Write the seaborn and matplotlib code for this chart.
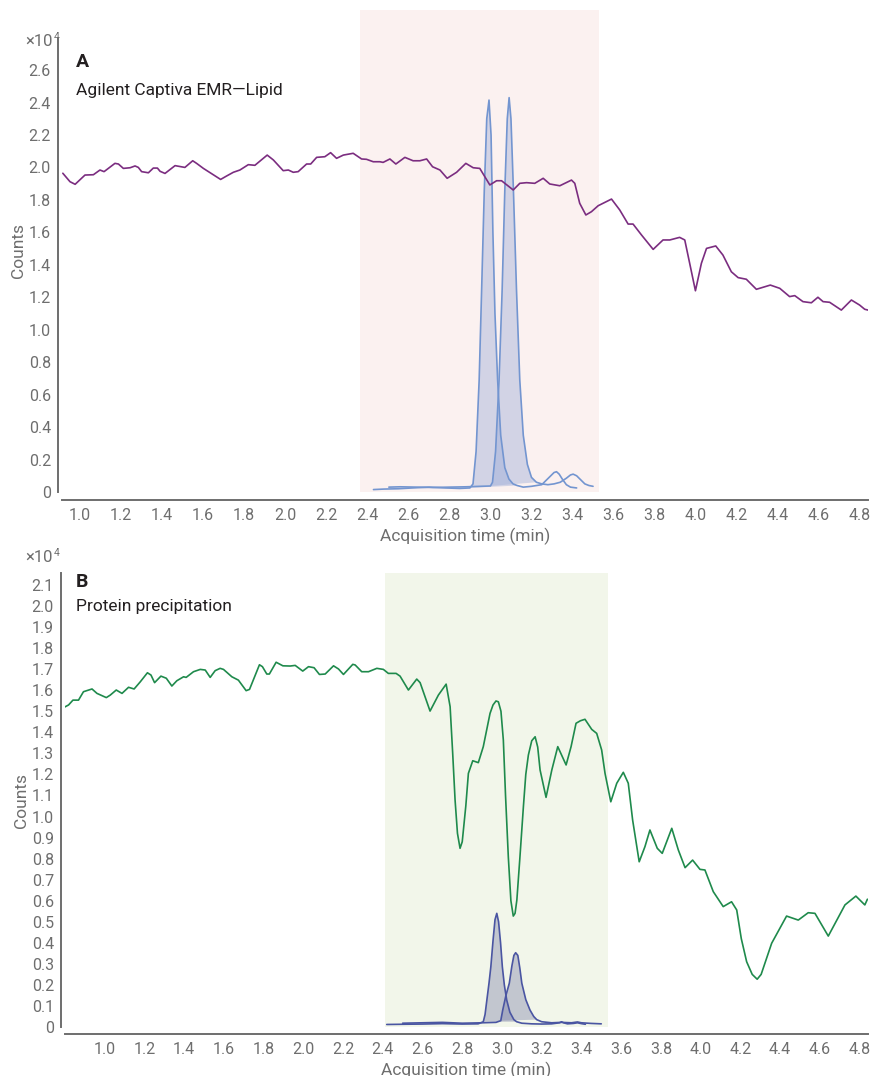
import numpy as np
import matplotlib
matplotlib.use("Agg")
import matplotlib.pyplot as plt
from matplotlib import font_manager as fm
import seaborn as sns

# ---------------- data (counts in units of 1e4) ----------------
# Panel A: Captiva EMR-Lipid, phospholipid trace (purple)
tA = [0.916, 0.951, 0.976, 1.024, 1.065, 1.097, 1.117, 1.170, 1.187, 1.211, 1.244, 1.268, 1.284, 1.300,
      1.333, 1.357, 1.377, 1.390, 1.414, 1.463, 1.511, 1.549, 1.568, 1.601, 1.685, 1.714, 1.747, 1.779,
      1.820, 1.852, 1.912, 1.942, 1.990, 2.015, 2.039, 2.063, 2.104, 2.124, 2.153, 2.193, 2.221, 2.250,
      2.283, 2.331, 2.372, 2.396, 2.429, 2.461, 2.477, 2.510, 2.539, 2.583, 2.623, 2.656, 2.689, 2.718,
      2.754, 2.789, 2.835, 2.880, 2.916, 2.948, 2.997, 3.030, 3.054, 3.111, 3.143, 3.176, 3.216, 3.257,
      3.289, 3.338, 3.395, 3.411, 3.435, 3.465, 3.492, 3.525, 3.590, 3.630, 3.671, 3.695, 3.736, 3.793,
      3.841, 3.874, 3.922, 3.947, 3.971, 3.999, 4.028, 4.053, 4.098, 4.133, 4.174, 4.207, 4.247, 4.296,
      4.364, 4.410, 4.458, 4.483, 4.523, 4.564, 4.596, 4.621, 4.653, 4.710, 4.759, 4.799, 4.824, 4.840]
vA = [1.964, 1.912, 1.896, 1.953, 1.955, 1.984, 1.974, 2.025, 2.021, 1.994, 1.998, 2.009, 2.000, 1.974,
      1.967, 1.996, 1.996, 1.976, 1.963, 2.011, 2.000, 2.041, 2.025, 1.994, 1.926, 1.947, 1.970, 1.984,
      2.017, 2.013, 2.076, 2.046, 1.980, 1.984, 1.970, 1.974, 2.021, 2.021, 2.062, 2.066, 2.091, 2.056,
      2.076, 2.087, 2.052, 2.050, 2.035, 2.035, 2.031, 2.052, 2.021, 2.062, 2.041, 2.041, 2.052, 2.004,
      1.984, 1.933, 1.970, 2.025, 1.998, 1.994, 1.892, 1.918, 1.918, 1.861, 1.902, 1.906, 1.902, 1.933,
      1.898, 1.887, 1.922, 1.902, 1.779, 1.707, 1.727, 1.764, 1.805, 1.738, 1.651, 1.651, 1.584, 1.495,
      1.553, 1.553, 1.569, 1.553, 1.409, 1.240, 1.409, 1.501, 1.516, 1.460, 1.357, 1.321, 1.311, 1.249,
      1.275, 1.255, 1.204, 1.210, 1.173, 1.166, 1.200, 1.173, 1.169, 1.121, 1.183, 1.152, 1.126, 1.121]

# Panel A analyte chromatograms
t1A = [2.43, 2.48, 2.55, 2.62, 2.70, 2.78, 2.85, 2.90, 2.915, 2.93, 2.945, 2.957, 2.97, 2.982, 2.993,
       3.003, 3.012, 3.022, 3.035, 3.05, 3.07, 3.09, 3.11, 3.13, 3.16, 3.20, 3.25, 3.29, 3.31, 3.322,
       3.335, 3.35, 3.37, 3.39, 3.42]
v1A = [0.015, 0.018, 0.020, 0.025, 0.030, 0.025, 0.022, 0.025, 0.05, 0.25, 0.69, 1.245, 1.86, 2.30, 2.415,
       2.20, 1.60, 1.10, 0.69, 0.35, 0.15, 0.08, 0.05, 0.04, 0.03, 0.035, 0.045, 0.095, 0.12, 0.125,
       0.11, 0.08, 0.045, 0.03, 0.025]
t2A = [2.505, 2.56, 2.64, 2.72, 2.80, 2.88, 2.95, 3.00, 3.01, 3.025, 3.042, 3.057, 3.07, 3.082, 3.091,
       3.10, 3.112, 3.127, 3.143, 3.16, 3.18, 3.20, 3.224, 3.25, 3.28, 3.31, 3.34, 3.37, 3.39, 3.403,
       3.42, 3.44, 3.46, 3.48, 3.50]
v2A = [0.030, 0.032, 0.030, 0.028, 0.030, 0.032, 0.035, 0.037, 0.06, 0.25, 0.69, 1.245, 1.86, 2.30, 2.43,
       2.30, 1.86, 1.245, 0.69, 0.35, 0.17, 0.09, 0.06, 0.05, 0.045, 0.05, 0.06, 0.085, 0.105, 0.11,
       0.10, 0.075, 0.05, 0.04, 0.035]
fillA = [(2.90, 3.13), (3.00, 3.224)]

# Panel B: protein precipitation, phospholipid trace (green)
tB = [0.796, 0.818, 0.840, 0.868, 0.893, 0.910, 0.936, 0.961, 1.008, 1.028, 1.058, 1.087, 1.120, 1.148,
      1.179, 1.215, 1.233, 1.251, 1.283, 1.310, 1.338, 1.363, 1.397, 1.410, 1.447, 1.481, 1.506, 1.531,
      1.556, 1.581, 1.598, 1.640, 1.673, 1.712, 1.729, 1.779, 1.794, 1.816, 1.829, 1.863, 1.897, 1.934,
      1.959, 1.997, 2.026, 2.054, 2.081, 2.110, 2.152, 2.177, 2.202, 2.249, 2.261, 2.294, 2.328, 2.370,
      2.403, 2.428, 2.467, 2.487, 2.529, 2.571, 2.588, 2.638, 2.680, 2.719, 2.739, 2.752, 2.764, 2.776,
      2.789, 2.800, 2.818, 2.831, 2.853, 2.881, 2.906, 2.940, 2.955, 2.970, 2.982, 2.995, 3.007, 3.018,
      3.032, 3.045, 3.057, 3.066, 3.075, 3.090, 3.108, 3.120, 3.133, 3.150, 3.167, 3.180, 3.192, 3.222,
      3.251, 3.281, 3.323, 3.348, 3.373, 3.395, 3.418, 3.452, 3.477, 3.502, 3.519, 3.548, 3.578, 3.611,
      3.636, 3.658, 3.691, 3.720, 3.745, 3.782, 3.807, 3.855, 3.888, 3.922, 3.960, 3.997, 4.022, 4.064,
      4.114, 4.156, 4.182, 4.205, 4.232, 4.260, 4.285, 4.305, 4.358, 4.433, 4.492, 4.542, 4.576, 4.643,
      4.727, 4.782, 4.827, 4.840]
vB = [1.519, 1.530, 1.553, 1.553, 1.593, 1.598, 1.606, 1.585, 1.565, 1.577, 1.601, 1.585, 1.614, 1.606,
      1.640, 1.683, 1.672, 1.636, 1.667, 1.657, 1.620, 1.645, 1.664, 1.661, 1.688, 1.699, 1.696, 1.661,
      1.693, 1.704, 1.699, 1.664, 1.648, 1.598, 1.604, 1.721, 1.712, 1.677, 1.677, 1.733, 1.716, 1.715,
      1.718, 1.691, 1.712, 1.707, 1.675, 1.677, 1.716, 1.701, 1.675, 1.723, 1.720, 1.688, 1.688, 1.704,
      1.699, 1.680, 1.680, 1.667, 1.601, 1.653, 1.636, 1.501, 1.577, 1.629, 1.522, 1.300, 1.078, 0.920,
      0.849, 0.880, 1.050, 1.205, 1.265, 1.256, 1.332, 1.490, 1.530, 1.549, 1.545, 1.500, 1.363, 1.100,
      0.809, 0.600, 0.527, 0.540, 0.603, 0.800, 1.047, 1.200, 1.292, 1.360, 1.379, 1.330, 1.221, 1.091,
      1.221, 1.332, 1.245, 1.332, 1.443, 1.455, 1.462, 1.414, 1.395, 1.316, 1.205, 1.070, 1.158, 1.210,
      1.158, 0.983, 0.785, 0.857, 0.936, 0.849, 0.825, 0.944, 0.841, 0.757, 0.793, 0.749, 0.746, 0.643,
      0.572, 0.595, 0.556, 0.420, 0.310, 0.250, 0.227, 0.250, 0.398, 0.527, 0.508, 0.543, 0.540, 0.432,
      0.580, 0.622, 0.580, 0.607]

# Panel B analyte chromatograms
t1B = [2.42, 2.50, 2.60, 2.70, 2.80, 2.88, 2.906, 2.915, 2.924, 2.935, 2.944, 2.955, 2.965, 2.974, 2.983,
       2.993, 3.002, 3.012, 3.024, 3.04, 3.06, 3.074, 3.10, 3.15, 3.20, 3.25, 3.29, 3.30, 3.31, 3.33,
       3.36, 3.38, 3.40, 3.42]
v1B = [0.012, 0.013, 0.014, 0.016, 0.014, 0.015, 0.025, 0.06, 0.128, 0.21, 0.286, 0.41, 0.51, 0.54, 0.50,
       0.40, 0.286, 0.20, 0.128, 0.07, 0.035, 0.025, 0.018, 0.015, 0.014, 0.015, 0.020, 0.025, 0.020, 0.015,
       0.017, 0.020, 0.016, 0.013]
t2B = [2.50, 2.60, 2.70, 2.80, 2.90, 2.97, 2.994, 3.004, 3.02, 3.037, 3.05, 3.06, 3.069, 3.08, 3.09,
       3.10, 3.12, 3.141, 3.16, 3.175, 3.20, 3.25, 3.30, 3.35, 3.38, 3.40, 3.45, 3.50]
v2B = [0.018, 0.020, 0.022, 0.018, 0.020, 0.022, 0.030, 0.081, 0.15, 0.208, 0.29, 0.34, 0.353, 0.34, 0.28,
       0.208, 0.13, 0.081, 0.05, 0.035, 0.025, 0.020, 0.022, 0.020, 0.024, 0.020, 0.017, 0.015]
fillB = [(2.906, 3.074), (2.994, 3.175)]

# windows, ticks, labels
spanA = (2.364, 3.528)
spanB = (2.412, 3.534)
xticksA = [1.0, 1.2, 1.4, 1.6, 1.8, 2.0, 2.2, 2.4, 2.6, 2.8, 3.0, 3.2, 3.4, 3.6, 3.8, 4.0, 4.2, 4.4, 4.6, 4.8]
xticksB = [0.8] + xticksA
yticksA = [0, 0.2, 0.4, 0.6, 0.8, 1.0, 1.2, 1.4, 1.6, 1.8, 2.0, 2.2, 2.4, 2.6]
yticksB = [0, 0.1, 0.2, 0.3, 0.4, 0.5, 0.6, 0.7, 0.8, 0.9, 1.0, 1.1, 1.2, 1.3, 1.4, 1.5, 1.6, 1.7,
           1.8, 1.9, 2.0, 2.1]
labelA, titleA = "A", "Agilent Captiva EMR\u2014Lipid"
labelB, titleB = "B", "Protein precipitation"
xlabel = "Acquisition time (min)"
ylabel = "Counts"

# ---------------- style ----------------
sns.set_style("white")
names = {f.name for f in fm.fontManager.ttflist}
FONT = "Liberation Sans Narrow" if "Liberation Sans Narrow" in names else "Roboto"
plt.rcParams["font.family"] = [FONT, "DejaVu Sans"]

GRAY = "#6e6e6e"
TXT = "#231f20"

fig = plt.figure(figsize=(8.73, 10.76), dpi=100)
W, H = 873, 1076
axA = fig.add_axes([62 / W, 1 - 492 / H, (868 - 62) / W, (492 - 10) / H])
axB = fig.add_axes([65 / W, 1 - 1027 / H, (868 - 65) / W, (1027 - 573) / H])


def style_axis(ax, xlim, ylim, xticks, yticks, spine_top, bottom_out, blank_first=False):
    ax.set_xlim(*xlim)
    ax.set_ylim(*ylim)
    for s in ["top", "right"]:
        ax.spines[s].set_visible(False)
    for s in ["left", "bottom"]:
        ax.spines[s].set_color(GRAY)
        ax.spines[s].set_linewidth(1.4)
    ax.spines["left"].set_position(("outward", 3))
    ax.spines["bottom"].set_position(("outward", bottom_out))
    ax.spines["left"].set_bounds(0, spine_top)
    ax.set_xticks(xticks)
    xl = [f"{v:.1f}" for v in xticks]
    if blank_first:
        xl[0] = ""
    ax.set_xticklabels(xl)
    ax.set_yticks(yticks)
    ax.set_yticklabels(["0" if v == 0 else f"{v:.1f}" for v in yticks])
    ax.tick_params(axis="both", direction="out", length=3, width=1.4, color=GRAY,
                   labelcolor=GRAY, labelsize=11.5, pad=2)
    ax.tick_params(axis="x", pad=3)
    ax.set_xlabel(xlabel, color=GRAY, fontsize=12.5, labelpad=3)
    ax.set_ylabel(ylabel, color=GRAY, fontsize=12.5, labelpad=2)
    ax.grid(False)
    ax.set_facecolor("none")


def draw_peaks(ax, ts, vs, fills, lc, fc, alpha):
    for t, v, (a, b) in zip(ts, vs, fills):
        t = np.asarray(t)
        v = np.asarray(v)
        m = (t >= a) & (t <= b)
        ax.fill(t[m], v[m], color=fc, alpha=alpha, lw=0, zorder=2)
        sns.lineplot(x=t, y=v, ax=ax, color=lc, lw=1.2, sort=False, estimator=None, zorder=3)


# Panel A
axA.axvspan(*spanA, color="#fbf1f0", lw=0, zorder=0)
draw_peaks(axA, [t1A, t2A], [v1A, v2A], fillA, "#7395d0", "#95a6d6", 0.4)
sns.lineplot(x=tA, y=vA, ax=axA, color="#7b2d80", lw=1.2, sort=False, estimator=None, zorder=4)
style_axis(axA, (0.912, 4.84), (0, 2.97), xticksA, yticksA, 2.797, 5.8)

# Panel B
axB.axvspan(*spanB, color="#f2f6ea", lw=0, zorder=0)
draw_peaks(axB, [t1B, t2B], [v1B, v2B], fillB, "#4a55a2", "#7a7fa8", 0.4)
sns.lineplot(x=tB, y=vB, ax=axB, color="#1f8a4c", lw=1.2, sort=False, estimator=None, zorder=4)
style_axis(axB, (0.8, 4.843), (0, 2.157), xticksB, yticksB, 2.157, 5.0, blank_first=True)

# Panel letters and titles
fig.text(76 / W, 1 - 62 / H, labelA, fontsize=14, fontweight="bold", color=TXT, ha="left", va="center")
fig.text(76 / W, 1 - 90 / H, titleA, fontsize=12.5, color=TXT, ha="left", va="center")
fig.text(76 / W, 1 - 582 / H, labelB, fontsize=14, fontweight="bold", color=TXT, ha="left", va="center")
fig.text(76 / W, 1 - 607 / H, titleB, fontsize=12.5, color=TXT, ha="left", va="center")

# exponent markers
for ytop in (42, 558):
    fig.text(25 / W, 1 - ytop / H, "\u00d710", fontsize=12, color=GRAY, ha="left", va="center")
    fig.text(54 / W, 1 - (ytop - 5) / H, "4", fontsize=7.5, color=GRAY, ha="left", va="center")

fig.savefig("out.png", dpi=100)
